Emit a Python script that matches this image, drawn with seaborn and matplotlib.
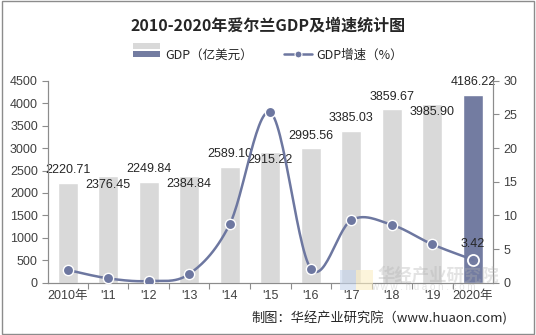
import numpy as np
import pandas as pd
import matplotlib
matplotlib.use("Agg")
import matplotlib.pyplot as plt
import seaborn as sns
from matplotlib.patches import Rectangle
from matplotlib.legend_handler import HandlerBase
from matplotlib.lines import Line2D

# ---- data ----
years = ["2010年", "'11", "'12", "'13", "'14", "'15", "'16", "'17", "'18", "'19", "2020年"]
gdp = [2220.71, 2376.45, 2249.84, 2384.84, 2589.10, 2915.22, 2995.56, 3385.03, 3859.67, 3985.90, 4186.22]
growth = [1.9, 0.65, 0.25, 1.3, 8.7, 25.3, 2.1, 9.3, 8.6, 5.7, 3.42]
label_side = ["up", "down", "up", "down", "up", "down", "up", "up", "up", "down", "up"]

title = "2010-2020年爱尔兰GDP及增速统计图"
gdp_name = "GDP（亿美元）"
growth_name = "GDP增速（%）"
source = "制图：华经产业研究院（www.huaon.com)"

sns.set_theme(style="white")
plt.rcParams["font.family"] = ["Liberation Sans", "Noto Sans CJK SC", "DejaVu Sans"]

GRAY = "#d9d9d9"
BLUE = "#737ca1"
LINE = "#6d77a0"
TXT = "#404040"
SPINE = "#8c8c8c"

df = pd.DataFrame({"year": years, "gdp": gdp, "growth": growth})
n = len(years)
bar_colors = [GRAY] * (n - 1) + [BLUE]

fig = plt.figure(figsize=(5.36, 3.35), dpi=100)
ax = fig.add_axes([0.090, 0.156, 0.830, 0.603])

sns.barplot(data=df, x="year", y="gdp", hue="year", palette=bar_colors,
            legend=False, width=0.49, ax=ax, saturation=1)
ax.set_xlim(-0.48, 10.5)
ax.set_ylim(0, 4500)
ax.set_yticks(np.arange(0, 4501, 500))
ax.set_xlabel("")
ax.set_ylabel("")

for i, (v, s) in enumerate(zip(gdp, label_side)):
    y = v + 280 if s == "up" else v - 190
    ax.text(i, y, f"{v:.2f}", ha="center", va="center", fontsize=9, color="#262626")

ax2 = ax.twinx()
ax2.set_ylim(0, 30)
ax2.set_yticks(np.arange(0, 31, 5))

# smooth curve (Catmull-Rom rendering of the data points)
xs = np.arange(n, dtype=float)
ys = np.array(growth, dtype=float)
P = np.column_stack([xs, ys])
Pext = np.vstack([P[0], P, P[-1]])
curve = []
t = np.linspace(0, 1, 30)
for k in range(1, n):
    p0, p1, p2, p3 = Pext[k - 1], Pext[k], Pext[k + 1], Pext[k + 2]
    m1 = (p2 - p0) / 2
    m2 = (p3 - p1) / 2
    h00 = 2 * t**3 - 3 * t**2 + 1
    h10 = t**3 - 2 * t**2 + t
    h01 = -2 * t**3 + 3 * t**2
    h11 = t**3 - t**2
    seg = (h00[:, None] * p1 + h10[:, None] * m1 + h01[:, None] * p2 + h11[:, None] * m2)
    curve.append(seg)
curve = np.vstack(curve)
ax2.plot(curve[:, 0], curve[:, 1], color=LINE, lw=1.8, zorder=3)
sns.scatterplot(x=xs[:-1], y=ys[:-1], ax=ax2, s=55, color=LINE, edgecolor="white",
                linewidth=1.0, zorder=4, legend=False)
ax2.plot(xs[-1], ys[-1], marker="o", ms=8, mfc="none", mec="white", mew=1.3, zorder=4)
ax2.text(xs[-1], ys[-1] + 2.4, f"{growth[-1]:.2f}", ha="center", va="center",
         fontsize=9, color="#262626")

for a in (ax, ax2):
    for sp in ["top"]:
        a.spines[sp].set_visible(False)
    for sp in ["left", "right", "bottom"]:
        a.spines[sp].set_color(SPINE)
        a.spines[sp].set_linewidth(0.8)
    a.tick_params(axis="y", labelsize=9, colors=TXT, length=4, width=0.8, color=SPINE)
ax.tick_params(axis="y", direction="out", left=True)
ax2.tick_params(axis="y", direction="out", right=True)
ax.tick_params(axis="x", labelsize=9, colors=TXT, length=0, pad=5)
ax.set_xticks(np.arange(n - 1) + 0.5, minor=True)
ax.tick_params(axis="x", which="minor", length=4, width=0.8, color=SPINE, bottom=True)

# watermark (faint)
fig.patches.append(Rectangle((0.635, 0.135), 0.03, 0.06, transform=fig.transFigure,
                             facecolor="#c5d5ec", edgecolor="none", alpha=0.6, zorder=5))
fig.patches.append(Rectangle((0.665, 0.135), 0.03, 0.06, transform=fig.transFigure,
                             facecolor="#fbeec4", edgecolor="none", alpha=0.6, zorder=5))
fig.text(0.817, 0.176, "华经产业研究院", fontsize=12.5, color="#b0b0b0", alpha=0.35,
         ha="center", va="center", family=["Noto Sans CJK SC"], fontweight="bold", zorder=6)
fig.text(0.79, 0.143, "w w w . h u a o n . c o m", fontsize=7, color="#b0b0b0", alpha=0.35,
         ha="center", va="center", zorder=6)

fig.text(0.5, 0.925, title, ha="center", va="center", fontsize=11.5, fontweight="bold",
         color="#262626", family=["Noto Sans CJK SC", "DejaVu Sans"])
fig.text(0.946, 0.05, source, ha="right", va="center", fontsize=9.5, color="#262626",
         family=["Noto Sans CJK SC", "DejaVu Sans"])


class TwoTone(HandlerBase):
    def create_artists(self, legend, orig, xd, yd, w, h, fontsize, trans):
        r1 = Rectangle((xd, yd + h * 0.55), w, h * 0.45, facecolor=GRAY, edgecolor="none", transform=trans)
        r2 = Rectangle((xd, yd), w, h * 0.45, facecolor=BLUE, edgecolor="none", transform=trans)
        return [r1, r2]


gdp_handle = Rectangle((0, 0), 1, 1)
line_handle = Line2D([], [], color=LINE, lw=1.8, marker="o", ms=5, mec="white", mew=0.8)
leg = fig.legend([gdp_handle, line_handle], [gdp_name, growth_name],
                 handler_map={Rectangle: TwoTone()}, loc="center", bbox_to_anchor=(0.5, 0.835),
                 ncol=2, frameon=False, fontsize=9, handlelength=2.2, handleheight=1.3,
                 columnspacing=2.5, handletextpad=0.4,
                 prop={"family": ["Noto Sans CJK SC", "DejaVu Sans"], "size": 9})
for t_ in leg.get_texts():
    t_.set_color("#262626")

fig.patches.append(Rectangle((0.003, 0.004), 0.993, 0.992, transform=fig.transFigure,
                             fill=False, edgecolor="#8c8c8c", lw=1.0))

fig.savefig("out.png", dpi=100)
